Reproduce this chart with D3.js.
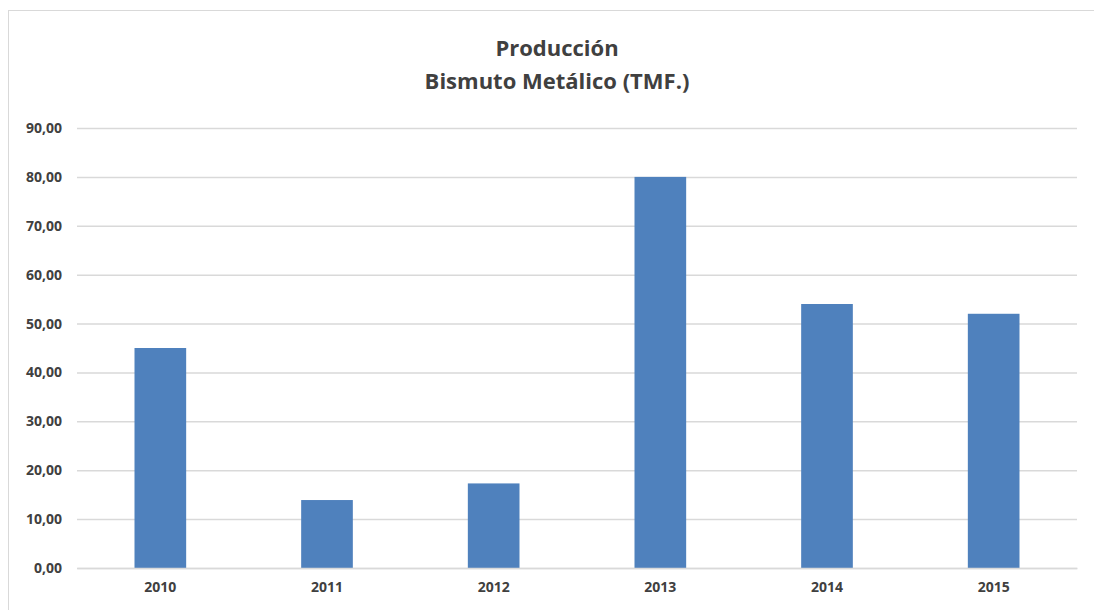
<!DOCTYPE html>
<html>
<head>
<meta charset="utf-8">
<script src="https://cdn.jsdelivr.net/npm/d3@7"></script>
<style>
  html, body { margin: 0; padding: 0; background: #fff; }
  svg { display: block; font-family: "Open Sans", "Noto Sans", sans-serif; }
</style>
</head>
<body>
<div class="chart-container"></div>
<script>
const years = ["2010", "2011", "2012", "2013", "2014", "2015"]
const production = [45.0, 13.9, 17.3, 80.0, 54.0, 52.0]
const yTicks = [0, 10, 20, 30, 40, 50, 60, 70, 80, 90]
const titleLines = ["Producción", "Bismuto Metálico (TMF.)"]

const width = 1094
const height = 610
const margin = {left: 77, top: 128, right: 17, bottom: 42}
const chartWidth = width - margin.left - margin.right
const chartHeight = height - margin.top - margin.bottom
const font = '"Open Sans", "Noto Sans", sans-serif'

const svg = d3.select('.chart-container')
  .append('svg')
    .attr('width', width)
    .attr('height', height)

// frame around the chart
svg.append('rect')
  .attr('x', 8.5)
  .attr('y', 10.5)
  .attr('width', width + 20)
  .attr('height', height + 20)
  .attr('fill', 'none')
  .attr('stroke', '#d9d9d9')

svg.append('text')
  .attr('x', 557)
  .attr('y', 56)
  .attr('text-anchor', 'middle')
  .style('font-size', '22px')
  .style('font-weight', 'bold')
  .style('fill', '#404040')
  .selectAll('tspan')
  .data(titleLines)
  .join('tspan')
    .attr('x', 557)
    .attr('dy', (d, i) => i === 0 ? 0 : 33)
    .text(d => d)

const g = svg.append('g')
  .attr('transform', `translate(${margin.left}, ${margin.top})`)

const xScale = d3.scaleBand()
  .domain(years)
  .range([0, chartWidth])
  .paddingInner(0.69)
  .paddingOuter(0.345)

const yScale = d3.scaleLinear()
  .domain([0, 90])
  .range([chartHeight, 0])

const fmt = d => d3.format('.2f')(d).replace('.', ',')

const yAxis = g.append('g')
  .call(d3.axisLeft(yScale).tickValues(yTicks).tickSize(-chartWidth).tickPadding(15).tickFormat(fmt))
  .attr('font-family', font)
yAxis.select('.domain').remove()
yAxis.selectAll('.tick line').attr('stroke', '#d9d9d9').attr('stroke-width', 1.5)
yAxis.selectAll('.tick text')
  .style('font-size', '14px')
  .style('font-weight', 'bold')
  .style('fill', '#404040')

g.selectAll('rect.bar')
  .data(production)
  .join('rect')
    .attr('class', 'bar')
    .attr('x', (d, i) => xScale(years[i]))
    .attr('y', d => yScale(d))
    .attr('width', xScale.bandwidth())
    .attr('height', d => chartHeight - yScale(d))
    .attr('fill', '#4f81bd')

const xAxis = g.append('g')
  .attr('transform', `translate(0, ${chartHeight})`)
  .call(d3.axisBottom(xScale).tickSize(0).tickPadding(14))
  .attr('font-family', font)
xAxis.select('.domain').attr('stroke', '#d9d9d9').attr('stroke-width', 1.5)
xAxis.selectAll('.tick text')
  .style('font-size', '14px')
  .style('font-weight', 'bold')
  .style('fill', '#404040')
</script>
</body>
</html>
